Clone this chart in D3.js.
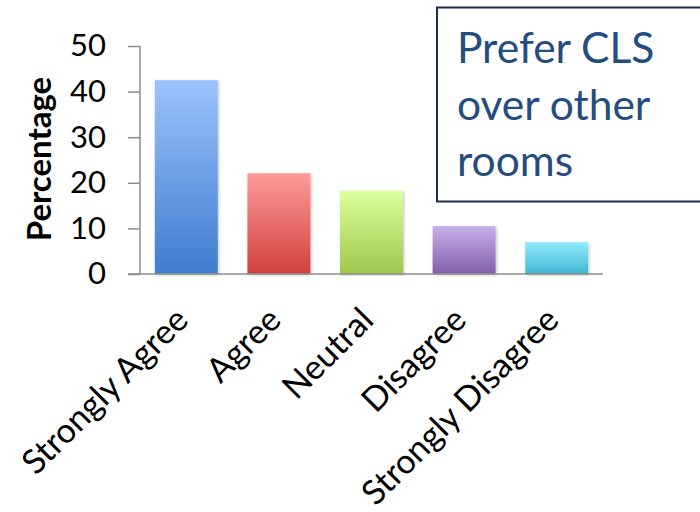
<!DOCTYPE html>
<html><head><meta charset="utf-8">
<script src="https://cdn.jsdelivr.net/npm/d3@7"></script>
<style>html,body{margin:0;padding:0;background:#fff;}svg{display:block;}</style>
</head><body>
<script>
const categories = ["Strongly Agree", "Agree", "Neutral", "Disagree", "Strongly Disagree"];
const values = [42.5, 22.1, 18.2, 10.5, 7.0];
const yTicks = [0, 10, 20, 30, 40, 50];
const topColors = ["#9cc2fc", "#fd9b98", "#dcfe9d", "#c6b0ea", "#93ecfc"];
const bottomColors = ["#3e7ece", "#d0403d", "#a0c74b", "#7f5fa8", "#3fb6d3"];
const boxLines = ["Prefer CLS", "over other", "rooms"];
const yTitle = "Percentage";

const W = 700, H = 512;
const svg = d3.select("body").append("svg").attr("width", W).attr("height", H);
const font = "Lato, 'Open Sans', sans-serif";

const x = d3.scaleBand().domain(categories).range([140, 603]).paddingInner(0.32).paddingOuter(0.16);
const y = d3.scaleLinear().domain([0, 50]).range([274, 46]);

const defs = svg.append("defs");
categories.forEach((c, i) => {
  const g = defs.append("linearGradient").attr("id", "g" + i).attr("x1", 0).attr("y1", 0).attr("x2", 0).attr("y2", 1);
  g.append("stop").attr("offset", "0%").attr("stop-color", topColors[i]);
  g.append("stop").attr("offset", "100%").attr("stop-color", bottomColors[i]);
});
const f = defs.append("filter").attr("id", "sh").attr("x", "-20%").attr("y", "-20%").attr("width", "140%").attr("height", "140%");
f.append("feDropShadow").attr("dx", 1).attr("dy", 1).attr("stdDeviation", 1.5).attr("flood-color", "#000").attr("flood-opacity", 0.25);

// bars
svg.append("g").selectAll("rect").data(values).join("rect")
  .attr("x", (d, i) => x(categories[i]))
  .attr("y", d => y(d))
  .attr("width", x.bandwidth())
  .attr("height", d => y(0) - y(d))
  .attr("fill", (d, i) => `url(#g${i})`)
  .attr("filter", "url(#sh)");

// y axis
const ya = svg.append("g").attr("transform", "translate(140,0)")
  .call(d3.axisLeft(y).tickValues(yTicks).tickSize(12).tickPadding(22));
ya.select(".domain").attr("stroke", "#8c8c8c").attr("stroke-width", 1.5).attr("d", `M0,${y(50)}V${y(0)}`);
ya.selectAll(".tick line").attr("stroke", "#8c8c8c").attr("stroke-width", 1.5);
ya.selectAll(".tick text").attr("font-family", font).attr("font-size", 31).attr("fill", "#000");

// x axis
const xa = svg.append("g").attr("transform", `translate(0,${y(0)})`)
  .call(d3.axisBottom(x).tickSize(0).tickPadding(0));
xa.select(".domain").attr("stroke", "#8c8c8c").attr("stroke-width", 1.5).attr("d", "M128,0H603");
xa.selectAll(".tick text")
  .attr("font-family", font).attr("font-size", 34).attr("fill", "#000")
  .attr("text-anchor", "end").attr("dy", 0).attr("y", 0)
  .attr("transform", "translate(4,48) rotate(-45)");

// y title
svg.append("text").attr("transform", "translate(51,159) rotate(-90)")
  .attr("text-anchor", "middle").attr("font-family", font).attr("font-weight", "bold")
  .attr("font-size", 33).attr("fill", "#000").text(yTitle);

// text box
svg.append("rect").attr("x", 437).attr("y", 7.5).attr("width", 275).attr("height", 194)
  .attr("fill", "#fff").attr("stroke", "#1c2d4f").attr("stroke-width", 2);
svg.append("g").selectAll("text").data(boxLines).join("text")
  .attr("x", 457).attr("y", (d, i) => 63 + i * 56.5)
  .attr("font-family", font).attr("font-size", 42.5).attr("fill", "#244c7f").text(d => d);
</script>
</body></html>
